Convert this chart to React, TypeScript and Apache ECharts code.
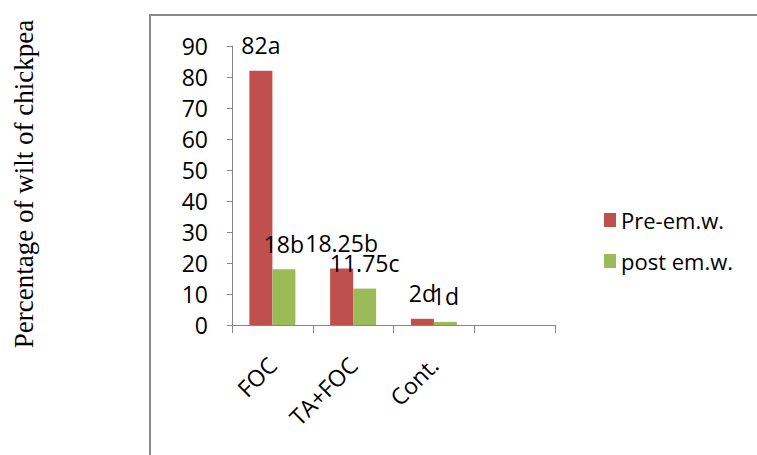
import React, { useEffect, useRef } from "react";
import * as echarts from "echarts";

const categories = ["FOC", "TA+FOC", "Cont.", ""];
const preValues = [82, 18.25, 2, null];
const postValues = [18, 11.75, 1, null];
const preLabels = ["82a", "18.25b", "2d", ""];
const postLabels = ["18b", "11.75c", "1d", ""];
const seriesNames = ["Pre-em.w.", "post em.w."];
const yTitle = "Percentage of wilt of chickpea";

const FONT = "'Open Sans', sans-serif";

export default function App() {
  const ref = useRef<HTMLDivElement>(null);
  useEffect(() => {
    const chart = echarts.init(ref.current!, null, { renderer: "svg" });
    const labelStyle = (labels: string[]) => ({
      show: true,
      position: "top",
      distance: 14,
      fontFamily: FONT,
      fontSize: 23,
      color: "#000",
      formatter: (p: any) => labels[p.dataIndex],
    });
    chart.setOption({
      animation: false,
      backgroundColor: "#fff",
      grid: { left: 232, right: 202, top: 46, bottom: 130 },
      graphic: [
        {
          type: "rect",
          shape: { x: 150, y: 15, width: 700, height: 600 },
          style: { fill: "none", stroke: "#8a8a8a", lineWidth: 2 },
          silent: true,
        },
        {
          type: "text",
          x: 24,
          y: 184,
          rotation: Math.PI / 2,
          style: {
            text: yTitle,
            fontFamily: "'Liberation Serif', 'Times New Roman', serif",
            fontSize: 27,
            fill: "#000",
            align: "center",
            verticalAlign: "middle",
          },
        },
      ],
      legend: {
        orient: "vertical",
        left: 599,
        top: 204,
        itemWidth: 12,
        itemHeight: 14,
        itemGap: 19,
        icon: "rect",
        textStyle: { fontFamily: FONT, fontSize: 22, color: "#000" },
        data: seriesNames,
      },
      xAxis: {
        type: "category",
        data: categories,
        axisLine: { lineStyle: { color: "#868686", width: 1 } },
        axisTick: { show: true, length: 8, lineStyle: { color: "#868686" } },
        axisLabel: {
          rotate: 45,
          fontFamily: FONT,
          fontSize: 23,
          color: "#000",
          margin: 36,
          interval: 0,
        },
      },
      yAxis: {
        type: "value",
        min: 0,
        max: 90,
        interval: 10,
        splitLine: { show: false },
        axisLine: { show: true, lineStyle: { color: "#868686", width: 1 } },
        axisTick: { show: true, length: 5, lineStyle: { color: "#868686" } },
        axisLabel: {
          fontFamily: FONT,
          fontSize: 23,
          color: "#000",
          margin: 24,
        },
      },
      series: [
        {
          name: seriesNames[0],
          type: "bar",
          data: preValues,
          barWidth: 23,
          barGap: "0%",
          itemStyle: { color: "#C0504D" },
          label: labelStyle(preLabels),
        },
        {
          name: seriesNames[1],
          type: "bar",
          data: postValues,
          barWidth: 23,
          barGap: "0%",
          itemStyle: { color: "#9BBB59" },
          label: labelStyle(postLabels),
        },
      ],
    });
    return () => chart.dispose();
  }, []);
  return <div ref={ref} style={{ width: 757, height: 455, position: "absolute", left: 0, top: 0 }} />;
}
